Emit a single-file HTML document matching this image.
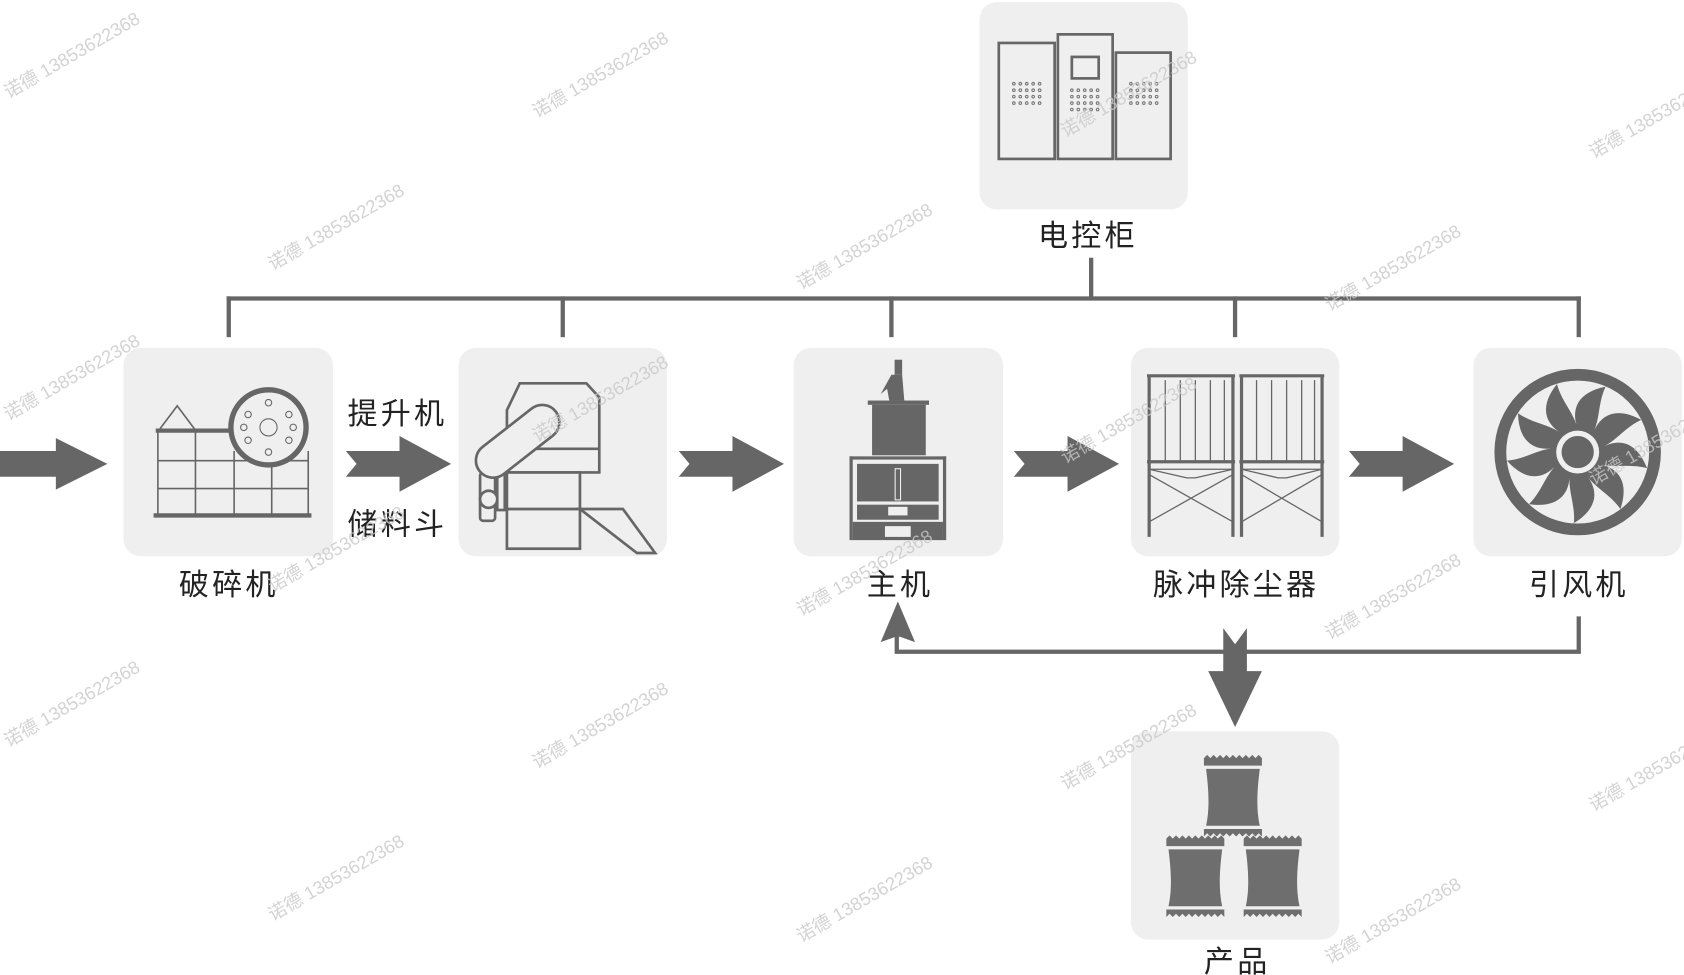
<!DOCTYPE html>
<html><head><meta charset="utf-8"><style>
html,body{margin:0;padding:0;background:#fff;}
svg{display:block;}
text{font-family:"Liberation Sans","Noto Sans CJK SC",sans-serif;}
</style></head><body>
<svg width="1684" height="975" viewBox="0 0 1568 908" preserveAspectRatio="none" xmlns="http://www.w3.org/2000/svg">
<defs>
<g id="arr"><polygon points="0,-12 50,-12 50,-26 98,0 50,26 50,12 0,12 10,0" fill="#666"/></g>
</defs>
<g fill="#efefef">
<rect x="912" y="2" width="194" height="193" rx="16"/>
<rect x="115" y="324" width="195" height="194" rx="16"/>
<rect x="427" y="324" width="194" height="194" rx="16"/>
<rect x="739" y="324" width="195" height="194" rx="16"/>
<rect x="1053" y="324" width="194" height="194" rx="16"/>
<rect x="1372" y="324" width="194" height="194" rx="16"/>
<rect x="1053" y="681" width="194" height="194" rx="16"/>
</g>
<g stroke="#666" stroke-width="4" fill="none">
<line x1="1016" y1="240" x2="1016" y2="278"/>
<line x1="211" y1="278" x2="1472" y2="278"/>
<line x1="213" y1="276" x2="213" y2="314"/>
<line x1="524" y1="276" x2="524" y2="314"/>
<line x1="830" y1="276" x2="830" y2="314"/>
<line x1="1150" y1="276" x2="1150" y2="314"/>
<line x1="1470" y1="276" x2="1470" y2="314"/>
<polyline points="1470,574 1470,607 835,607 835,590"/>
</g>
<polygon points="836,560 820,598 834,593 836,593 838,593 852,598" fill="#666"/>
<polygon points="1139,585 1150,600 1161,585 1161,625 1175,625 1150,677 1125,625 1139,625" fill="#666"/>
<polygon points="0,420 52,420 52,408 100,432 52,456 52,444 0,444" fill="#666"/>
<use href="#arr" x="322" y="432"/>
<use href="#arr" x="632" y="432"/>
<use href="#arr" x="944" y="432"/>
<use href="#arr" x="1256" y="432"/>
<g font-size="28" fill="#222" text-anchor="middle" letter-spacing="3">
<text x="1013" y="229">电控柜</text>
<text x="213" y="554">破碎机</text>
<text x="370" y="395">提升机</text>
<text x="370" y="498">储料斗</text>
<text x="838" y="554">主机</text>
<text x="1151" y="554">脉冲除尘器</text>
<text x="1470" y="554">引风机</text>
<text x="1152" y="905">产品</text>
</g>
<g stroke="#666" stroke-width="2.5" fill="none">
<rect x="930" y="40" width="52" height="108"/>
<rect x="985" y="32" width="51" height="116"/>
<rect x="1039" y="49" width="51" height="99"/>
<rect x="998" y="53" width="25" height="20"/>
</g>
<g fill="none" stroke="#777" stroke-width="1">
<g id="dots"><circle cx="944" cy="78" r="1.2"/><circle cx="950" cy="78" r="1.2"/><circle cx="956" cy="78" r="1.2"/><circle cx="962" cy="78" r="1.2"/><circle cx="968" cy="78" r="1.2"/>
<circle cx="944" cy="84" r="1.2"/><circle cx="950" cy="84" r="1.2"/><circle cx="956" cy="84" r="1.2"/><circle cx="962" cy="84" r="1.2"/><circle cx="968" cy="84" r="1.2"/>
<circle cx="944" cy="90" r="1.2"/><circle cx="950" cy="90" r="1.2"/><circle cx="956" cy="90" r="1.2"/><circle cx="962" cy="90" r="1.2"/><circle cx="968" cy="90" r="1.2"/>
<circle cx="944" cy="96" r="1.2"/><circle cx="950" cy="96" r="1.2"/><circle cx="956" cy="96" r="1.2"/><circle cx="962" cy="96" r="1.2"/><circle cx="968" cy="96" r="1.2"/></g>
<use href="#dots" x="54" y="6"/><use href="#dots" x="109" y="0"/>
</g>
<g stroke="#666" fill="none">
<g stroke-width="1.5">
<line x1="147" y1="402" x2="147" y2="480"/><line x1="182" y1="402" x2="182" y2="480"/><line x1="218" y1="420" x2="218" y2="480"/><line x1="253" y1="430" x2="253" y2="480"/><line x1="287" y1="420" x2="287" y2="480"/>
<line x1="147" y1="429" x2="287" y2="429"/><line x1="147" y1="455" x2="287" y2="455"/>
<polyline points="147,402 165,378 183,402"/>
</g>
<line x1="145" y1="401" x2="215" y2="401" stroke-width="4"/>
<line x1="143" y1="480" x2="290" y2="480" stroke-width="4"/>
<circle cx="250" cy="398" r="35" fill="#efefef" stroke-width="5"/>
<g stroke-width="1"><circle cx="250" cy="398" r="8"/><circle cx="250" cy="375" r="3"/><circle cx="250" cy="421" r="3"/><circle cx="231" cy="386" r="3"/><circle cx="269" cy="386" r="3"/><circle cx="231" cy="410" r="3"/><circle cx="269" cy="410" r="3"/><circle cx="227" cy="398" r="3"/><circle cx="273" cy="398" r="3"/></g>
</g>
<g stroke="#666" stroke-width="2.5" fill="#efefef">
<polygon points="472,382 472,440 558,440 558,370 546,357 484,357"/>
<line x1="472" y1="418" x2="558" y2="418"/>
<rect x="472" y="474" width="68" height="37"/>
<rect x="472" y="440" width="68" height="34"/>
<polygon points="540,474 580,474 610,515 593,515"/>
<rect x="463" y="440" width="7" height="35"/>
<rect x="447" y="440" width="14" height="45" rx="3"/>
<circle cx="455" cy="465" r="8"/>
<rect x="437" y="395" width="90" height="32" rx="16" transform="rotate(-38 482 411)"/>
</g>
<g fill="#666">
<rect x="833" y="335" width="7" height="14"/>
<path d="M830,349 L840,349 L842,373 L828,373 L826,362 L820,367 Z"/>
<rect x="808" y="373" width="57" height="4"/>
<rect x="812" y="377" width="50" height="47"/>
<rect x="791" y="425" width="90" height="3"/>
<rect x="791" y="425" width="3" height="78"/><rect x="878" y="425" width="3" height="78"/>
<rect x="798" y="432" width="76" height="35"/>
<rect x="798" y="470" width="76" height="14"/>
<rect x="794" y="486" width="84" height="17"/>
</g>
<g fill="#efefef"><rect x="833" y="436" width="6" height="30"/><rect x="827" y="472" width="18" height="8"/><rect x="824" y="490" width="24" height="10"/></g>
<g fill="#666"><rect x="834" y="437" width="4" height="28"/></g>
<g stroke="#666" fill="none">
<g stroke-width="3"><line x1="1068" y1="350" x2="1150" y2="350"/><line x1="1154" y1="350" x2="1233" y2="350"/>
<line x1="1068" y1="430" x2="1150" y2="430"/><line x1="1154" y1="430" x2="1233" y2="430"/>
<line x1="1070" y1="350" x2="1070" y2="500"/><line x1="1148" y1="350" x2="1148" y2="500"/><line x1="1156" y1="350" x2="1156" y2="500"/><line x1="1231" y1="350" x2="1231" y2="500"/></g>
<g stroke-width="1.2">
<line x1="1085" y1="354" x2="1085" y2="430"/><line x1="1099" y1="354" x2="1099" y2="430"/><line x1="1113" y1="354" x2="1113" y2="430"/><line x1="1127" y1="354" x2="1127" y2="430"/><line x1="1140" y1="354" x2="1140" y2="430"/>
<line x1="1170" y1="354" x2="1170" y2="430"/><line x1="1184" y1="354" x2="1184" y2="430"/><line x1="1198" y1="354" x2="1198" y2="430"/><line x1="1212" y1="354" x2="1212" y2="430"/><line x1="1224" y1="354" x2="1224" y2="430"/>
<polyline points="1070,437 1148,437"/><polyline points="1156,437 1231,437"/>
<line x1="1070" y1="442" x2="1148" y2="486"/><line x1="1148" y1="442" x2="1070" y2="486"/>
<line x1="1156" y1="442" x2="1231" y2="486"/><line x1="1231" y1="442" x2="1156" y2="486"/>
<polyline points="1070,437 1105,445 1113,445 1148,437"/><polyline points="1156,437 1190,445 1198,445 1231,437"/>
</g></g>
<g>
<circle cx="1469" cy="421" r="72" fill="none" stroke="#666" stroke-width="11"/>
<g fill="#666" id="bl"><path d="M1469,399 C1462,380 1470,365 1495,360 C1488,375 1490,388 1484,402 Z"/></g>
<use href="#bl" transform="rotate(40 1469 421)"/><use href="#bl" transform="rotate(80 1469 421)"/><use href="#bl" transform="rotate(120 1469 421)"/><use href="#bl" transform="rotate(160 1469 421)"/><use href="#bl" transform="rotate(200 1469 421)"/><use href="#bl" transform="rotate(240 1469 421)"/><use href="#bl" transform="rotate(280 1469 421)"/><use href="#bl" transform="rotate(320 1469 421)"/>
<circle cx="1469" cy="421" r="26" fill="#666"/>
<circle cx="1469" cy="421" r="20" fill="#efefef"/>
<circle cx="1469" cy="421" r="15" fill="#666"/>
</g>
<g fill="#6e6e6e">
<path id="bag" d="M1121,706 l3,-3 3,3 3,-3 3,3 3,-3 3,3 3,-3 3,3 3,-3 3,3 3,-3 3,3 3,-3 3,3 3,-3 3,3 3,-3 3,3 0,7 -54,0 Z M1123,716 L1173,716 C1170,740 1170,755 1173,769 L1123,769 C1126,755 1126,740 1123,716 Z M1121,772 l54,0 0,7 -3,-3 -3,3 -3,-3 -3,3 -3,-3 -3,3 -3,-3 -3,3 -3,-3 -3,3 -3,-3 -3,3 -3,-3 -3,3 -3,-3 -3,3 -3,-3 -3,3 Z"/>
<use href="#bag" x="-35" y="75"/><use href="#bag" x="37" y="75"/>
</g>
<g font-size="17" fill="#c8c8c8" opacity="0.8">
<text transform="translate(8,92) rotate(-30)">诺德 13853622368</text>
<text transform="translate(500,110) rotate(-30)">诺德 13853622368</text>
<text transform="translate(992,128) rotate(-30)">诺德 13853622368</text>
<text transform="translate(1484,148) rotate(-30)">诺德 13853622368</text>
<text transform="translate(254,252) rotate(-30)">诺德 13853622368</text>
<text transform="translate(746,270) rotate(-30)">诺德 13853622368</text>
<text transform="translate(1238,290) rotate(-30)">诺德 13853622368</text>
<text transform="translate(8,392) rotate(-30)">诺德 13853622368</text>
<text transform="translate(500,412) rotate(-30)">诺德 13853622368</text>
<text transform="translate(992,432) rotate(-30)">诺德 13853622368</text>
<text transform="translate(1484,452) rotate(-30)">诺德 13853622368</text>
<text transform="translate(254,552) rotate(-30)">诺德 13853622368</text>
<text transform="translate(746,574) rotate(-30)">诺德 13853622368</text>
<text transform="translate(1238,596) rotate(-30)">诺德 13853622368</text>
<text transform="translate(8,696) rotate(-30)">诺德 13853622368</text>
<text transform="translate(500,716) rotate(-30)">诺德 13853622368</text>
<text transform="translate(992,736) rotate(-30)">诺德 13853622368</text>
<text transform="translate(1484,756) rotate(-30)">诺德 13853622368</text>
<text transform="translate(254,858) rotate(-30)">诺德 13853622368</text>
<text transform="translate(746,878) rotate(-30)">诺德 13853622368</text>
<text transform="translate(1238,898) rotate(-30)">诺德 13853622368</text>
</g>
</svg>
</body></html>
